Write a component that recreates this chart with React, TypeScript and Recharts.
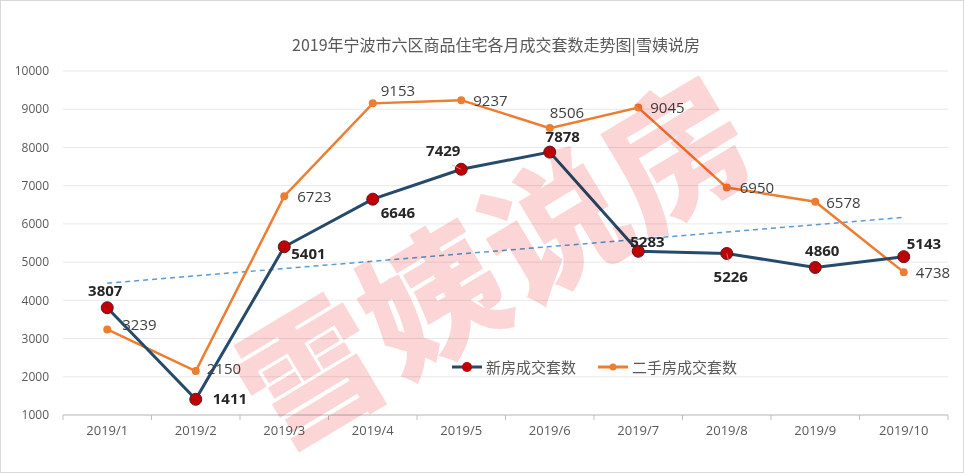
import React from 'react';
import {
  LineChart, Line, XAxis, YAxis, CartesianGrid, LabelList,
} from 'recharts';

const months = ['2019/1', '2019/2', '2019/3', '2019/4', '2019/5', '2019/6', '2019/7', '2019/8', '2019/9', '2019/10'];
const newHouse = [3807, 1411, 5401, 6646, 7429, 7878, 5283, 5226, 4860, 5143];
const secondHand = [3239, 2150, 6723, 9153, 9237, 8506, 9045, 6950, 6578, 4738];
// linear trend of new houses, only the two ends
const trendEnds = [4450, 6170];
const yTicks = [1000, 2000, 3000, 4000, 5000, 6000, 7000, 8000, 9000, 10000];

// label offsets [dx, dy, anchor, leader]
type Pos = [number, number, string, boolean?];
const newLabelPos: Pos[] = [
  [-2, -12, 'middle'], [17, 5, 'start'], [7, 12, 'start'], [8, 19, 'start'], [-18, -13, 'middle', true],
  [13, -10, 'middle'], [-8, -4, 'start'], [4, 29, 'middle', true], [7, -11, 'middle'], [3, -8, 'start'],
];
const secondLabelPos: Pos[] = [
  [15, 1, 'start'], [11, 3, 'start'], [13, 6, 'start'], [8, -7, 'start'], [12, 6, 'start'],
  [0, -10, 'start'], [12, 5, 'start'], [13, 5, 'start'], [11, 6, 'start'], [12, 6, 'start'],
];

const NAVY = '#264a6a';
const ORANGE = '#ed7d31';
const MARKER = '#c00000';
const W = 964;
const H = 473;
const M = { top: 71, right: 16, bottom: 0, left: 0 };
const Y_W = 63;
const X_H = 58;
const BAND = (W - M.left - M.right - Y_W) / months.length;

const data = months.map((m, i) => ({
  month: m,
  newHouse: newHouse[i],
  secondHand: secondHand[i],
  trend: i === 0 ? trendEnds[0] : i === months.length - 1 ? trendEnds[1] : null,
}));

const makeLabel = (pos: Pos[], bold: boolean) => (props: any) => {
  const { x, y, value, index } = props;
  const [dx, dy, anchor, leader] = pos[index];
  return (
    <g>
      {leader && (
        <line x1={x + dx * 0.5} y1={y + (dy < 0 ? dy + 6 : dy - 16) * 0.6} x2={x} y2={y}
          stroke="#a6a6a6" strokeWidth={0.8} />
      )}
      <text x={x + dx} y={y + dy} textAnchor={anchor} fontSize={15}
        fontWeight={bold ? 700 : 400} fill={bold ? '#262626' : '#404040'}
        fontFamily="'Open Sans', 'Noto Sans', sans-serif">
        {value}
      </text>
    </g>
  );
};

const XTick = (props: any) => {
  const { x, y, payload, index } = props;
  const last = index === months.length - 1;
  return (
    <g>
      <line x1={x - BAND / 2} x2={x - BAND / 2} y1={y - 8} y2={y - 3} stroke="#bfbfbf" />
      {last && <line x1={x + BAND / 2} x2={x + BAND / 2} y1={y - 8} y2={y - 3} stroke="#bfbfbf" />}
      <text x={x} y={y + 12} textAnchor="middle" fontSize={13} fill="#595959"
        fontFamily="'Open Sans', 'Noto Sans', sans-serif">{payload.value}</text>
    </g>
  );
};

const NewDot = (props: any) => {
  const { cx, cy } = props;
  if (cx == null || cy == null) return null;
  return <circle cx={cx} cy={cy} r={6} fill={MARKER} stroke="#5a1a2a" strokeWidth={1} />;
};

export default function App() {
  return (
    <div style={{ position: 'absolute', left: 0, top: 0, width: W, height: H, background: '#fff',
      border: '1px solid #d9d9d9', boxSizing: 'border-box', overflow: 'hidden' }}>
      <div style={{ position: 'absolute', top: 31, left: 13, width: W, textAlign: 'center', fontSize: 16,
        color: '#595959', fontFamily: "'Noto Sans CJK SC', sans-serif" }}>
        2019年宁波市六区商品住宅各月成交套数走势图|雪姨说房
      </div>
      <div style={{ position: 'absolute', left: -1, top: -1 }}>
        <LineChart width={W} height={H} data={data} margin={M}>
          <CartesianGrid vertical={false} stroke="#e8e8e8" />
          <XAxis dataKey="month" height={X_H} axisLine={{ stroke: '#bfbfbf' }} tickLine={false}
            tick={<XTick />} interval={0} padding={{ left: BAND / 2, right: BAND / 2 }} />
          <YAxis width={Y_W} domain={[1000, 10000]} ticks={yTicks} axisLine={false} tickLine={false}
            tick={{ fontSize: 12, fill: '#595959', fontFamily: "'Open Sans', sans-serif" }} tickMargin={8} />
          <Line dataKey="trend" connectNulls stroke="#5b9bd5" strokeWidth={1.5} strokeDasharray="5 4"
            dot={false} isAnimationActive={false} />
          <Line dataKey="secondHand" stroke={ORANGE} strokeWidth={2.5}
            dot={{ r: 4, fill: ORANGE, stroke: ORANGE, strokeWidth: 0 }} isAnimationActive={false}>
            <LabelList dataKey="secondHand" content={makeLabel(secondLabelPos, false)} />
          </Line>
          <Line dataKey="newHouse" stroke={NAVY} strokeWidth={3} dot={<NewDot />} isAnimationActive={false}>
            <LabelList dataKey="newHouse" content={makeLabel(newLabelPos, true)} />
          </Line>
        </LineChart>
      </div>
      <div style={{ position: 'absolute', left: 451, top: 355, display: 'flex', alignItems: 'center',
        fontSize: 15, color: '#595959', fontFamily: "'Noto Sans CJK SC', sans-serif" }}>
        <svg width={30} height={12}>
          <line x1={0} x2={30} y1={6} y2={6} stroke={NAVY} strokeWidth={3} />
          <circle cx={15} cy={6} r={5} fill={MARKER} />
        </svg>
        <span style={{ marginLeft: 4 }}>新房成交套数</span>
        <svg width={30} height={12} style={{ marginLeft: 22 }}>
          <line x1={0} x2={30} y1={6} y2={6} stroke={ORANGE} strokeWidth={3} />
          <circle cx={15} cy={6} r={3.5} fill={ORANGE} />
        </svg>
        <span style={{ marginLeft: 4 }}>二手房成交套数</span>
      </div>
      <svg width={W} height={H} style={{ position: 'absolute', left: -1, top: -1, mixBlendMode: 'multiply',
        pointerEvents: 'none' }}>
        <text x={490} y={255} transform="rotate(-31 490 255)" textAnchor="middle" dominantBaseline="central"
          fontSize={140} fontWeight={900} fill="#fcd6d6" letterSpacing={2}
          fontFamily="'Noto Sans CJK SC', sans-serif">
          雪姨说房
        </text>
      </svg>
    </div>
  );
}
